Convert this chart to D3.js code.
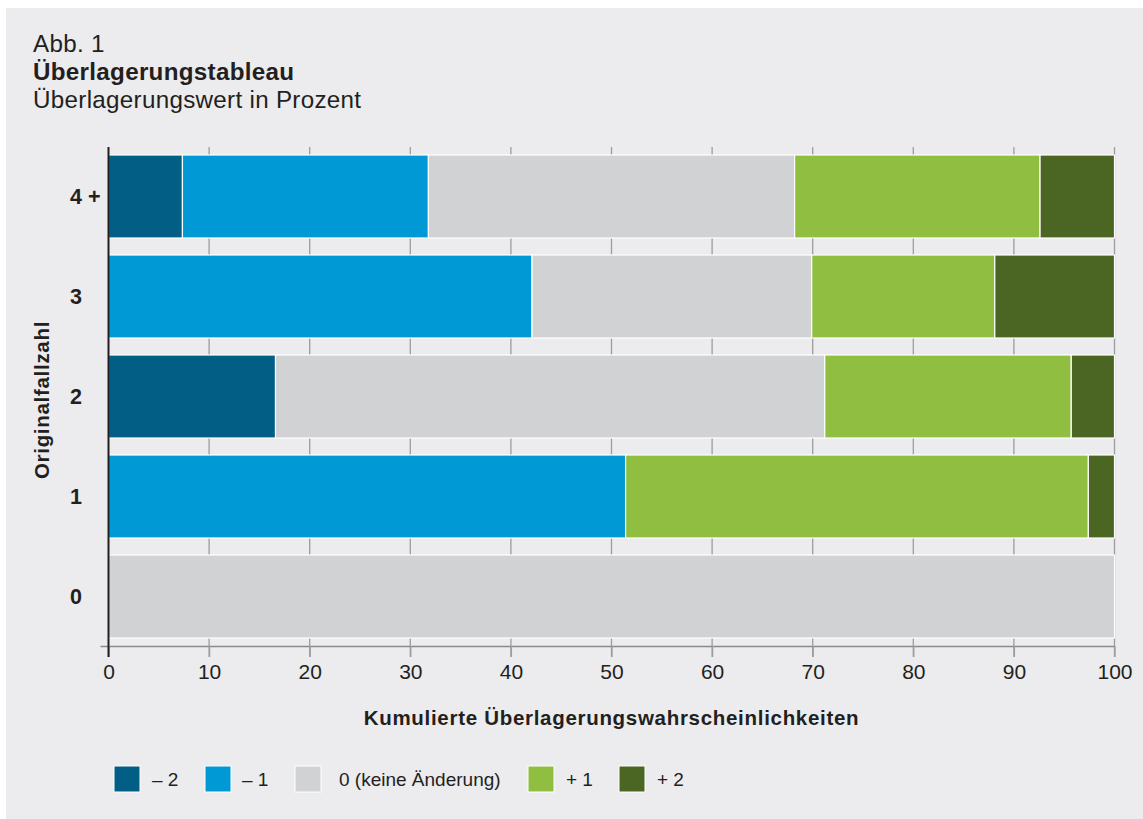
<!DOCTYPE html>
<html>
<head>
<meta charset="utf-8">
<script src="https://cdn.jsdelivr.net/npm/d3@7"></script>
<style>
  body { margin: 0; background: #fff; }
  svg text { font-family: "Liberation Sans", Arial, sans-serif; fill: #231f20; }
</style>
</head>
<body>
<div id="chart"></div>
<script>
// Rows (top to bottom) and change classes
const rows = ['4 +', '3', '2', '1', '0'];
const classes = ['m2', 'm1', 'z', 'p1', 'p2'];
const classLabels = ['– 2', '– 1', '0 (keine Änderung)', '+ 1', '+ 2'];
const classColors = ['#025e85', '#0099d6', '#d1d2d4', '#8fbe40', '#4b6522'];

// Share per class in percent, one array per class, in row order
const m2 = [7.35, 0, 16.6, 0, 0];
const m1 = [24.45, 42.1, 0, 51.4, 0];
const z  = [36.4, 27.8, 54.6, 0, 100];
const p1 = [24.4, 18.2, 24.5, 46.0, 0];
const p2 = [7.4, 11.9, 4.3, 2.6, 0];

const xTicks = [0, 10, 20, 30, 40, 50, 60, 70, 80, 90, 100];

const table = rows.map((r, i) => ({
  row: r, m2: m2[i], m1: m1[i], z: z[i], p1: p1[i], p2: p2[i]
}));

const config = {
  width: 1143, height: 819,
  left: 108.5, right: 1114.5, top: 147, bottom: 646
};

const svg = d3.select('#chart').append('svg')
    .attr('width', config.width)
    .attr('height', config.height);

// panel background
svg.append('rect')
    .attr('x', 6).attr('y', 8)
    .attr('width', config.width - 6).attr('height', config.height - 8)
    .attr('fill', '#ecebed');

// titles
const titleSize = '24.2px';
svg.append('text').attr('x', 33).attr('y', 52)
    .style('font-size', titleSize).style('letter-spacing', '0.3px').text('Abb. 1');
svg.append('text').attr('x', 33).attr('y', 80)
    .style('font-size', titleSize).style('letter-spacing', '0.3px')
    .style('font-weight', 'bold').text('Überlagerungstableau');
svg.append('text').attr('x', 33).attr('y', 108)
    .style('font-size', titleSize).style('letter-spacing', '0.3px')
    .text('Überlagerungswert in Prozent');

const x = d3.scaleLinear().domain([0, 100]).range([config.left, config.right]);
const y = d3.scaleBand().domain(rows)
    .range([config.top, config.bottom])
    .paddingInner(0.17).paddingOuter(0.08);

// grid lines (behind bars, visible in the gaps)
svg.append('g').selectAll('line')
  .data(xTicks.slice(1))
  .join('line')
    .attr('x1', d => x(d)).attr('x2', d => x(d))
    .attr('y1', config.top).attr('y2', config.bottom + 11)
    .attr('stroke', '#9d9d9f')
    .attr('stroke-width', 1.3);

// stacked bars
const stack = d3.stack().keys(classes)(table);
const color = d3.scaleOrdinal().domain(classes).range(classColors);

svg.append('g').selectAll('g')
  .data(stack)
  .join('g')
    .attr('fill', d => color(d.key))
  .selectAll('rect')
  .data(d => d.filter(s => s[1] - s[0] > 0))
  .join('rect')
    .attr('x', d => x(d[0]))
    .attr('y', d => y(d.data.row))
    .attr('width', d => x(d[1]) - x(d[0]))
    .attr('height', y.bandwidth())
    .attr('stroke', '#ffffff')
    .attr('stroke-width', 1.2);

// x axis
const xAxis = svg.append('g')
    .attr('transform', `translate(0,${config.bottom})`)
    .call(d3.axisBottom(x).tickValues(xTicks).tickSize(11).tickSizeOuter(0).tickPadding(7));
xAxis.select('.domain').attr('stroke', '#8a8a8c').attr('stroke-width', 1.3)
    .attr('d', `M${config.left - 8},0.5H${config.right}`);
xAxis.selectAll('.tick line').attr('stroke', '#9d9d9f').attr('stroke-width', 1.3);
xAxis.selectAll('.tick text')
    .style('font-size', '21px')
    .style('font-family', '"Liberation Sans", Arial, sans-serif')
    .attr('fill', '#231f20');

// y axis line
svg.append('line')
    .attr('x1', config.left).attr('x2', config.left)
    .attr('y1', config.top).attr('y2', config.bottom + 11)
    .attr('stroke', '#231f20').attr('stroke-width', 2);

// y labels
svg.append('g').selectAll('text')
  .data(rows)
  .join('text')
    .attr('x', 70)
    .attr('y', d => y(d) + y.bandwidth() / 2)
    .attr('dy', '0.35em')
    .style('font-size', '21.5px')
    .style('font-weight', 'bold')
    .text(d => d);

// axis titles
svg.append('text')
    .attr('x', (config.left + config.right) / 2).attr('y', 725)
    .attr('text-anchor', 'middle')
    .style('font-size', '20.5px').style('font-weight', 'bold')
    .style('letter-spacing', '0.7px')
    .text('Kumulierte Überlagerungswahrscheinlichkeiten');

svg.append('text')
    .attr('transform', 'translate(49,400) rotate(-90)')
    .attr('text-anchor', 'middle')
    .style('font-size', '20.5px').style('font-weight', 'bold')
    .style('letter-spacing', '0.7px')
    .text('Originalfallzahl');

// legend
const legendX = [114, 205, 295, 528, 619];
const legendTextX = [152, 242, 339, 566, 657];
const legend = svg.append('g').selectAll('g')
  .data(classes)
  .join('g');
legend.append('rect')
    .attr('x', (d, i) => legendX[i]).attr('y', 766)
    .attr('width', 26).attr('height', 26)
    .attr('fill', d => color(d))
    .attr('stroke', '#ffffff').attr('stroke-width', 1);
legend.append('text')
    .attr('x', (d, i) => legendTextX[i]).attr('y', 779).attr('dy', '0.35em')
    .style('font-size', '19px')
    .text((d, i) => classLabels[i]);
</script>
</body>
</html>
